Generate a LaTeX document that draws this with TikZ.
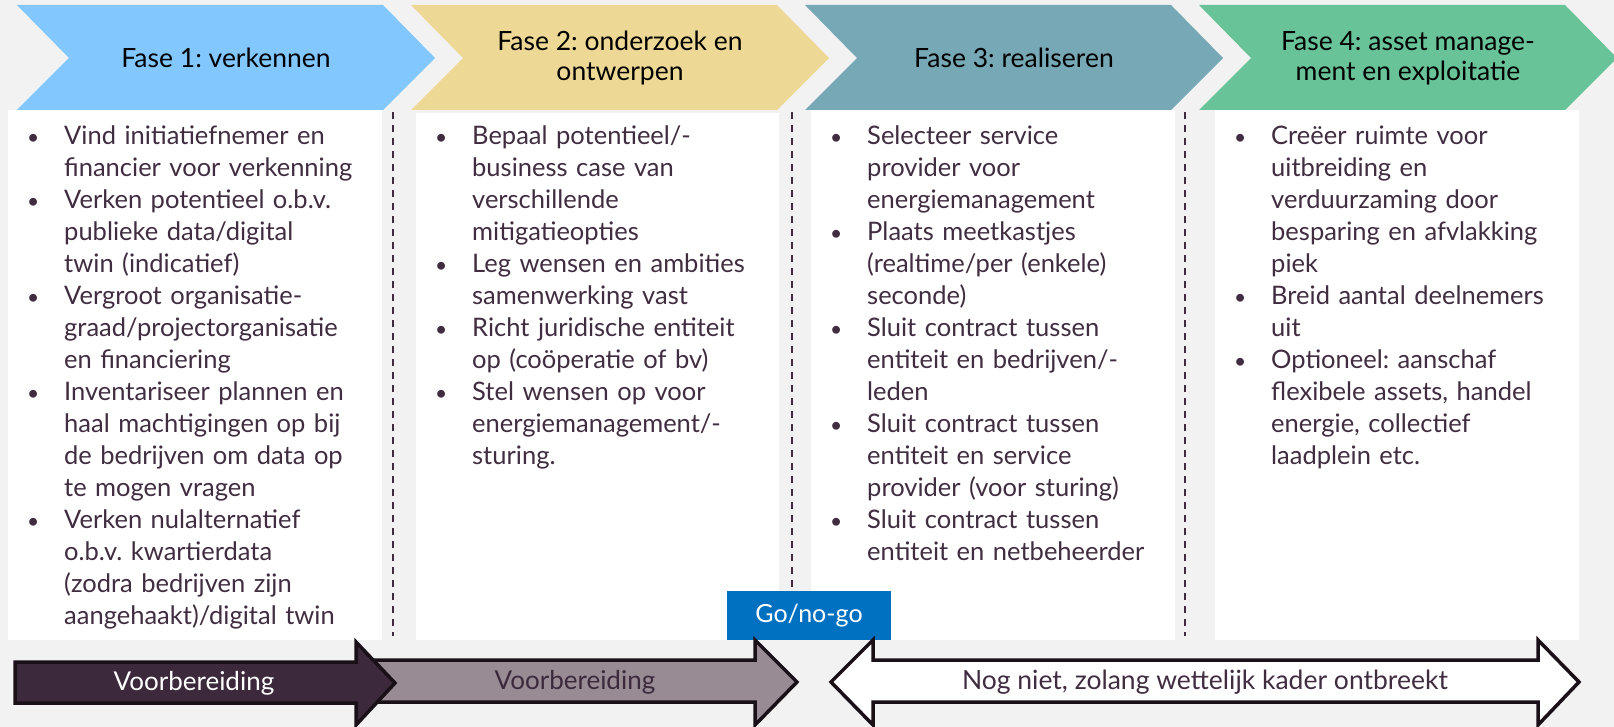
\documentclass[tikz,border=0pt]{standalone}
\usepackage{fontspec}
\setmainfont{Lato}
\usetikzlibrary{arrows.meta,positioning}
\frenchspacing

\definecolor{achter}{RGB}{242,242,242}
\definecolor{faseA}{RGB}{130,200,255}
\definecolor{faseB}{RGB}{237,217,149}
\definecolor{faseC}{RGB}{118,168,182}
\definecolor{faseD}{RGB}{104,196,152}
\definecolor{tekst}{RGB}{64,46,64}
\definecolor{donker}{RGB}{60,42,60}
\definecolor{grijs}{RGB}{152,139,148}
\definecolor{gonogo}{RGB}{0,112,192}
\definecolor{rand}{RGB}{26,16,24}

\newcommand{\itm}{\par\leavevmode\llap{{\fontsize{21}{32}\selectfont\textbullet}\hspace{25pt}}}

\tikzset{
  kop/.style={align=center, text=black, font=\fontsize{26.5}{30}\selectfont},
  punten/.style={anchor=north west, inner sep=0pt, text width=420pt, align=left,
    text=tekst, font=\fontsize{25.5}{32}\selectfont},
  scheiding/.style={draw=tekst, line width=1.8pt, dash pattern=on 7pt off 6pt},
  pijl/.style={draw=rand, line width=3.5pt, line join=miter},
  pijltekst/.style={font=\fontsize{26}{30}\selectfont}
}

\begin{document}
\begin{tikzpicture}[x=1pt, y=-1pt]

  % page and background
  \useasboundingbox (0,0) rectangle (1614,727);
  \fill[achter] (0,0) rectangle (1614,727);

  % parameters of the chevrons
  \def\cw{366}   % width of the top edge
  \def\cn{52}    % depth of notch and tip
  \def\ct{5}     % top
  \def\cm{58}    % middle
  \def\cb{110}   % bottom

  % the four phase chevrons
  \fill[faseA] (17,\ct) -- ({17+\cw},\ct) -- ({17+\cw+\cn},\cm) -- ({17+\cw},\cb)
    -- (17,\cb) -- ({17+\cn},\cm) -- cycle;
  \fill[faseB] (411,\ct) -- ({411+\cw},\ct) -- ({411+\cw+\cn},\cm) -- ({411+\cw},\cb)
    -- (411,\cb) -- ({411+\cn},\cm) -- cycle;
  \fill[faseC] (805,\ct) -- ({805+\cw},\ct) -- ({805+\cw+\cn},\cm) -- ({805+\cw},\cb)
    -- (805,\cb) -- ({805+\cn},\cm) -- cycle;
  \fill[faseD] (1199,\ct) -- ({1199+\cw},\ct) -- ({1199+\cw+\cn},\cm) -- ({1199+\cw},\cb)
    -- (1199,\cb) -- ({1199+\cn},\cm) -- cycle;

  \node[kop] (fase1) at (226,\cm) {Fase 1: verkennen};
  \node[kop] (fase2) at (620,\cm) {Fase 2: onderzoek en\\ontwerpen};
  \node[kop] (fase3) at (1014,\cm) {Fase 3: realiseren};
  \node[kop] (fase4) at (1408,\cm) {Fase 4: asset manage-\\ment en exploitatie};

  % white text boxes
  \fill[white] (8,110) rectangle (382,640);
  \fill[white] (416,113) rectangle (779,640);
  \fill[white] (811,110) rectangle (1175,640);
  \fill[white] (1215,110) rectangle (1579,640);

  % dashed separators
  \draw[scheiding] (393,112) -- (393,636);
  \draw[scheiding] (792,112) -- (792,589);
  \draw[scheiding] (1185,112) -- (1185,636);

  % bullet lists
  \node[punten] (lijst1) at (64,112) {%
    \itm Vind initiatiefnemer en\\ financier voor verkenning
    \itm Verken potentieel o.b.v.\\ publieke data/digital\\ twin (indicatief)
    \itm Vergroot organisatie-\\ graad/projectorganisatie\\ en financiering
    \itm Inventariseer plannen en\\ haal machtigingen op bij\\ de bedrijven om data op\\ te mogen vragen
    \itm Verken nulalternatief\\ o.b.v. kwartierdata\\ (zodra bedrijven zijn\\ aangehaakt)/digital twin};
  \node[punten] (lijst2) at (472,112) {%
    \itm Bepaal potentieel/-\\ business case van\\ verschillende\\ mitigatieopties
    \itm Leg wensen en ambities\\ samenwerking vast
    \itm Richt juridische entiteit\\ op (coöperatie of bv)
    \itm Stel wensen op voor\\ energiemanagement/-\\ sturing.};
  \node[punten] (lijst3) at (867,112) {%
    \itm Selecteer service\\ provider voor\\ energiemanagement
    \itm Plaats meetkastjes\\ (realtime/per (enkele)\\ seconde)
    \itm Sluit contract tussen\\ entiteit en bedrijven/-\\ leden
    \itm Sluit contract tussen\\ entiteit en service\\ provider (voor sturing)
    \itm Sluit contract tussen\\ entiteit en netbeheerder};
  \node[punten] (lijst4) at (1271,112) {%
    \itm Creëer ruimte voor\\ uitbreiding en\\ verduurzaming door\\ besparing en afvlakking\\ piek
    \itm Breid aantal deelnemers\\ uit
    \itm Optioneel: aanschaf\\ flexibele assets, handel\\ energie, collectief\\ laadplein etc.};

  % go / no-go marker
  \node[fill=gonogo, text=white, minimum width=164pt, minimum height=49pt, inner sep=0pt,
    font=\fontsize{25}{30}\selectfont] (go) at (809,615.5) {Go/no-go};

  % bottom arrows (second one first, the first overlaps it)
  \draw[pijl, fill=grijs] (362,660) -- (755,660) -- (755,640) -- (797,682) -- (755,725)
    -- (755,702) -- (362,702) -- cycle;
  \draw[pijl, fill=donker] (15,662) -- (356,662) -- (356,642) -- (395,683) -- (356,725)
    -- (356,703) -- (15,703) -- cycle;
  \draw[pijl, fill=white] (831,682) -- (873,640) -- (873,660) -- (1538,660) -- (1538,640)
    -- (1579,682) -- (1538,725) -- (1538,702) -- (873,702) -- (873,725) -- cycle;

  \node[pijltekst, text=white] (voor1) at (194,683) {Voorbereiding};
  \node[pijltekst, text=donker] (voor2) at (575,682) {Voorbereiding};
  \node[pijltekst, text=tekst, font=\fontsize{26.5}{30}\selectfont] (nog) at (1205,682)
    {Nog niet, zolang wettelijk kader ontbreekt};

\end{tikzpicture}
\end{document}
